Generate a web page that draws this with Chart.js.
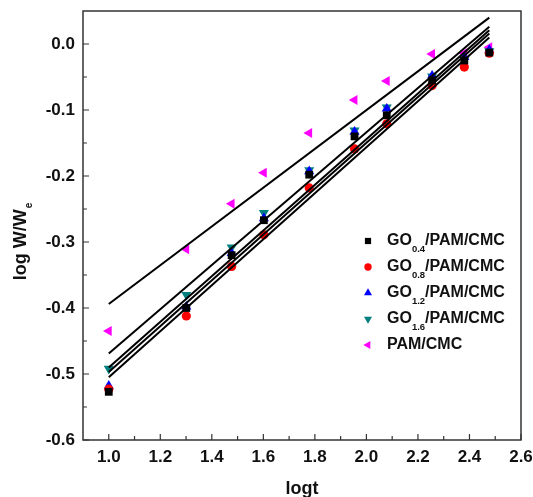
<!DOCTYPE html>
<html>
<head>
<meta charset="utf-8">
<script src="https://cdn.jsdelivr.net/npm/chart.js@4.4.0/dist/chart.umd.min.js"></script>
<style>
  html, body { margin: 0; padding: 0; background: #fff; }
</style>
</head>
<body>
<canvas id="swellChart" width="533" height="497"></canvas>
<script>
// log t (x values) shared by all samples
const logt = [1.0, 1.301, 1.477, 1.602, 1.778, 1.954, 2.079, 2.255, 2.380, 2.477];

const go04 = [-0.527, -0.400, -0.320, -0.267, -0.198, -0.140, -0.108, -0.055, -0.025, -0.013];
const go08 = [-0.523, -0.412, -0.337, -0.289, -0.218, -0.159, -0.121, -0.063, -0.035, -0.014];
const go12 = [-0.518, -0.398, -0.317, -0.264, -0.193, -0.133, -0.098, -0.048, -0.020, -0.009];
const go16 = [-0.492, -0.380, -0.308, -0.256, -0.191, -0.131, -0.096, -0.049, -0.024, -0.011];
const pamCmc = [-0.435, -0.311, -0.242, -0.195, -0.135, -0.085, -0.056, -0.015, -0.014, -0.005];

// fitted lines, end points
const fitX = [1.0, 2.477];
const fitGo04 = [-0.497, 0.016];
const fitGo08 = [-0.505, 0.010];
const fitGo12 = [-0.490, 0.021];
const fitGo16 = [-0.469, 0.026];
const fitPam = [-0.394, 0.040];

// tick labels
const xTicks = [1.0, 1.2, 1.4, 1.6, 1.8, 2.0, 2.2, 2.4, 2.6];
const yTicks = [-0.6, -0.5, -0.4, -0.3, -0.2, -0.1, 0.0];

// legend text: [main, subscript, rest]
const legendLabels = [
  ['GO', '0.4', '/PAM/CMC'],
  ['GO', '0.8', '/PAM/CMC'],
  ['GO', '1.2', '/PAM/CMC'],
  ['GO', '1.6', '/PAM/CMC'],
  ['PAM/CMC', '', '']
];

const FONT = '"Liberation Sans", Arial, sans-serif';
Chart.defaults.font.family = FONT;
Chart.defaults.color = '#111';

const toPts = ys => ys.map((y, i) => ({ x: logt[i], y: y }));
const toLine = ys => ys.map((y, i) => ({ x: fitX[i], y: y }));

const markers = [
  { data: go04, color: '#000000', style: 'rect', radius: 5.5, rotation: 0 },
  { data: go08, color: '#ff0000', style: 'circle', radius: 4.6, rotation: 0 },
  { data: go12, color: '#0000ff', style: 'triangle', radius: 5.8, rotation: 0 },
  { data: go16, color: '#007f7f', style: 'triangle', radius: 5.8, rotation: 180 },
  { data: pamCmc, color: '#ff00ff', style: 'triangle', radius: 5.8, rotation: 270 }
];

const fits = [fitGo04, fitGo08, fitGo12, fitGo16, fitPam];

const datasets = [];
fits.forEach(f => {
  datasets.push({
    type: 'line',
    data: toLine(f),
    borderColor: '#000',
    borderWidth: 2,
    pointRadius: 0,
    fill: false
  });
});
markers.forEach(m => {
  datasets.push({
    type: 'scatter',
    data: toPts(m.data),
    backgroundColor: m.color,
    borderColor: m.color,
    borderWidth: 0,
    pointStyle: m.style,
    pointRadius: m.radius,
    pointRotation: m.rotation
  });
});

// frame, inward ticks, axis titles and legend
const decor = {
  id: 'decor',
  afterDraw(chart) {
    const ctx = chart.ctx;
    const a = chart.chartArea;
    const xs = chart.scales.x, ys = chart.scales.y;
    ctx.save();
    ctx.strokeStyle = '#333';
    ctx.lineWidth = 1.5;
    ctx.strokeRect(a.left, a.top, a.right - a.left, a.bottom - a.top);

    ctx.lineWidth = 1.2;
    ctx.beginPath();
    for (let v = 1.0; v <= 2.601; v += 0.1) {
      const px = xs.getPixelForValue(v);
      const major = Math.round(v * 10) % 2 === 0;
      ctx.moveTo(px, a.bottom);
      ctx.lineTo(px, a.bottom - (major ? 6 : 4));
    }
    for (let v = -0.6; v <= 0.001; v += 0.05) {
      const py = ys.getPixelForValue(v);
      const major = Math.round(Math.abs(v) * 100) % 10 === 0;
      ctx.moveTo(a.left, py);
      ctx.lineTo(a.left + (major ? 6 : 4), py);
    }
    ctx.stroke();

    // x title
    ctx.fillStyle = '#111';
    ctx.font = 'bold 18px ' + FONT;
    ctx.textAlign = 'center';
    ctx.textBaseline = 'alphabetic';
    ctx.fillText('logt', (a.left + a.right) / 2, 494);

    // y title with subscript
    ctx.save();
    ctx.translate(26, 242);
    ctx.rotate(-Math.PI / 2);
    ctx.font = 'bold 18px ' + FONT;
    const main = 'log W/W';
    const w1 = ctx.measureText(main).width;
    ctx.font = 'bold 10px ' + FONT;
    const w2 = ctx.measureText('e').width;
    const start = -(w1 + w2) / 2;
    ctx.textAlign = 'left';
    ctx.font = 'bold 18px ' + FONT;
    ctx.fillText(main, start, 0);
    ctx.font = 'bold 10px ' + FONT;
    ctx.fillText('e', start + w1 + 1, 6);
    ctx.restore();

    // legend
    const lx = 368, tx = 387, ly0 = 241, step = 26;
    legendLabels.forEach((lab, i) => {
      const m = markers[i];
      const y = ly0 + i * step;
      ctx.fillStyle = m.color;
      ctx.strokeStyle = m.color;
      Chart.helpers.drawPoint(ctx, {
        pointStyle: m.style, radius: m.radius * 0.8, rotation: m.rotation, borderWidth: 0
      }, lx, y);
      ctx.fillStyle = '#111';
      ctx.textAlign = 'left';
      ctx.textBaseline = 'middle';
      ctx.font = 'bold 16px ' + FONT;
      let x = tx;
      ctx.fillText(lab[0], x, y);
      x += ctx.measureText(lab[0]).width;
      if (lab[1]) {
        ctx.font = 'bold 9.5px ' + FONT;
        ctx.fillText(lab[1], x, y + 8);
        x += ctx.measureText(lab[1]).width;
        ctx.font = 'bold 16px ' + FONT;
        ctx.fillText(lab[2], x, y);
      }
    });
    ctx.restore();
  }
};

new Chart(document.getElementById('swellChart').getContext('2d'), {
  data: { datasets: datasets },
  options: {
    responsive: false,
    animation: false,
    layout: { padding: { top: 11, right: 12, left: 0, bottom: 0 } },
    plugins: { legend: { display: false }, tooltip: { enabled: false } },
    scales: {
      x: {
        type: 'linear',
        min: 0.9,
        max: 2.6,
        grid: { display: false, drawTicks: false },
        border: { display: false },
        ticks: {
          padding: 7,
          maxRotation: 0,
          autoSkip: false,
          font: { size: 17, weight: 'bold' },
          callback: v => v.toFixed(1)
        },
        afterBuildTicks: s => { s.ticks = xTicks.map(v => ({ value: v })); },
        afterFit: s => { s.height = 57; s.paddingLeft = 0; s.paddingRight = 0; }
      },
      y: {
        type: 'linear',
        min: -0.6,
        max: 0.05,
        grid: { display: false, drawTicks: false },
        border: { display: false },
        ticks: {
          padding: 8,
          autoSkip: false,
          font: { size: 17, weight: 'bold' },
          callback: v => (Math.abs(v) < 1e-9 ? 0 : v).toFixed(1)
        },
        afterBuildTicks: s => { s.ticks = yTicks.map(v => ({ value: v })); },
        afterFit: s => { s.width = 83; s.paddingTop = 0; s.paddingBottom = 0; }
      }
    }
  },
  plugins: [decor]
});
</script>
</body>
</html>
